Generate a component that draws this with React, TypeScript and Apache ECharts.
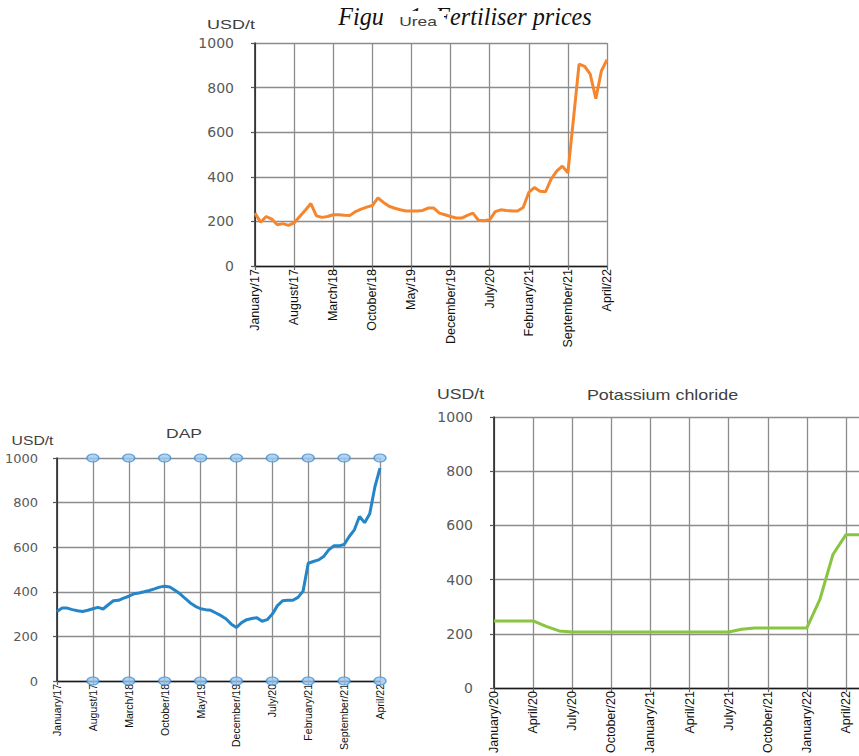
import React, { useEffect, useRef } from "react";
import * as echarts from "echarts";

const MONTH_NAMES = [
  "January", "February", "March", "April", "May", "June",
  "July", "August", "September", "October", "November", "December",
];

function monthLabels(startYear: number, startMonth: number, count: number): string[] {
  const out: string[] = [];
  for (let k = 0; k < count; k++) {
    const m = (startMonth + k) % 12;
    const y = startYear + Math.floor((startMonth + k) / 12);
    out.push(`${MONTH_NAMES[m]}/${String(y % 100).padStart(2, "0")}`);
  }
  return out;
}

// Categories (monthly)
const ureaMonths = monthLabels(2017, 0, 64); // January/17 … April/22
const dapMonths = monthLabels(2017, 0, 64); // January/17 … April/22
const potashMonths = monthLabels(2020, 0, 29); // January/20 … May/22 (last one cut by the page edge)

// Series values, USD/t
const ureaPrices = [
  237, 196, 222, 210, 185, 190, 182, 193, 222, 250,
  280, 225, 218, 222, 230, 230, 228, 227, 244, 255,
  264, 271, 305, 285, 268, 259, 252, 247, 247, 247,
  249, 260, 260, 237, 230, 222, 215, 215, 227, 237,
  205, 203, 207, 244, 252, 249, 247, 247, 262, 330,
  352, 335, 333, 390, 425, 448, 418, 660, 905, 895,
  860, 750, 875, 925,
];

const dapPrices = [
  312, 327, 327, 320, 315, 312, 317, 324, 330, 323,
  342, 360, 362, 372, 380, 391, 395, 400, 406, 413,
  421, 425, 422, 407, 391, 370, 350, 335, 324, 320,
  317, 305, 293, 278, 255, 240, 262, 275, 280, 284,
  268, 275, 300, 338, 360, 362, 362, 375, 403, 528,
  536, 543, 558, 588, 606, 606, 612, 648, 678, 738,
  710, 750, 870, 955,
];

const potashPrices = [
  248, 248, 248, 248, 228, 211, 207, 207, 207, 207,
  207, 207, 207, 207, 207, 207, 207, 207, 207, 217,
  222, 222, 222, 222, 222, 327, 493, 566, 566,
];

// Value-axis ticks
const yTicks = [0, 200, 400, 600, 800, 1000];
// Levels of the DAP chart's round markers
const dapMarkerLevels = [0, 1000];

const UREA_STEP = 7;
const DAP_STEP = 7;
const POTASH_STEP = 3;

export default function App() {
  const ref = useRef<HTMLDivElement>(null);

  useEffect(() => {
    document.body.style.margin = "0";
    document.body.style.overflow = "hidden";
    if (!ref.current) return;
    const chart = echarts.init(ref.current, undefined, { renderer: "svg" });

    const splitLineStyle = { color: "#8c8c8c", width: 1.3 };
    const xLabelFont = "'Liberation Sans', Arial, sans-serif";

    const xAxisFor = (gridIndex: number, data: string[], step: number, fontSize: number) => ({
      type: "category",
      gridIndex,
      data,
      boundaryGap: false,
      axisLine: { show: true, lineStyle: { color: "#1a1a1a", width: 1.3 } },
      axisTick: { show: true, interval: step - 1, length: 4, lineStyle: { color: "#666", width: 1.2 } },
      axisLabel: {
        interval: step - 1,
        rotate: 90,
        margin: 3,
        fontSize,
        color: "#111111",
        fontFamily: xLabelFont,
      },
      splitLine: { show: true, interval: step - 1, lineStyle: splitLineStyle },
    });

    const yAxisFor = (gridIndex: number, fontSize: number, margin: number) => ({
      type: "value",
      gridIndex,
      min: yTicks[0],
      max: yTicks[yTicks.length - 1],
      interval: yTicks[1] - yTicks[0],
      axisLine: { show: true, lineStyle: { color: "#1a1a1a", width: 1.5 } },
      axisTick: { show: true, length: 4, lineStyle: { color: "#555", width: 1.2 } },
      axisLabel: {
        color: "#595959",
        fontFamily: "'DejaVu Sans', sans-serif",
        fontSize,
        margin,
        formatter: (v: number) => String(v),
      },
      splitLine: { show: true, lineStyle: splitLineStyle },
    });

    const dapMarkerData: [string, number][] = [];
    dapMonths.forEach((m, i) => {
      if (i > 0 && i % DAP_STEP === 0) {
        dapMarkerLevels.forEach((v) => dapMarkerData.push([m, v]));
      }
    });

    const txt = (
      text: string,
      x: number,
      y: number,
      fontSize: number,
      scaleX: number,
      fill: string
    ) => ({
      type: "text",
      x,
      y,
      scaleX,
      z: 10,
      style: {
        text,
        fontSize,
        fontFamily: "'Liberation Sans', Arial, sans-serif",
        fill,
        align: "center",
        verticalAlign: "middle",
      },
    });

    chart.setOption({
      animation: false,
      backgroundColor: "#ffffff",
      grid: [
        { left: 255, top: 43, width: 352, height: 223, containLabel: false },
        { left: 57, top: 458, width: 323, height: 223, containLabel: false },
        { left: 494, top: 417, width: 369, height: 274, containLabel: false },
      ],
      xAxis: [
        xAxisFor(0, ureaMonths, UREA_STEP, 12.5),
        xAxisFor(1, dapMonths, DAP_STEP, 10.5),
        xAxisFor(2, potashMonths, POTASH_STEP, 12.5),
      ],
      yAxis: [yAxisFor(0, 14, 21), yAxisFor(1, 13, 19), yAxisFor(2, 14, 21)],
      series: [
        {
          name: "Urea",
          type: "line",
          xAxisIndex: 0,
          yAxisIndex: 0,
          data: ureaPrices,
          showSymbol: false,
          lineStyle: { color: "#F5862E", width: 3 },
          itemStyle: { color: "#F5862E" },
        },
        {
          name: "DAP",
          type: "line",
          xAxisIndex: 1,
          yAxisIndex: 1,
          data: dapPrices,
          showSymbol: false,
          lineStyle: { color: "#2485C8", width: 3 },
          itemStyle: { color: "#2485C8" },
        },
        {
          name: "DAP markers",
          type: "scatter",
          xAxisIndex: 1,
          yAxisIndex: 1,
          data: dapMarkerData,
          symbol: "path://M0 4A6 4 0 1 0 12 4A6 4 0 1 0 0 4Z",
          symbolSize: [12, 8],
          clip: false,
          silent: true,
          z: 5,
          itemStyle: { color: "#9DC8EE", borderColor: "#3B8ED5", borderWidth: 1.2 },
        },
        {
          name: "Potassium chloride",
          type: "line",
          xAxisIndex: 2,
          yAxisIndex: 2,
          data: potashPrices,
          showSymbol: false,
          lineStyle: { color: "#88C540", width: 3 },
          itemStyle: { color: "#88C540" },
        },
      ],
      graphic: [
        {
          type: "text",
          x: 465,
          y: 16,
          scaleX: 0.93,
          z: 8,
          style: {
            text: "Figure 1: Fertiliser prices",
            fontSize: 26,
            fontStyle: "italic",
            fontFamily: "'Liberation Serif', 'Times New Roman', serif",
            fill: "#111111",
            align: "center",
            verticalAlign: "middle",
          },
        },
        {
          type: "rect",
          z: 9,
          shape: { x: 383, y: 11, width: 61, height: 22 },
          style: { fill: "#ffffff" },
        },
        txt("Urea", 418, 22, 12, 1.45, "#404040"),
        txt("USD/t", 231, 24.5, 13, 1.38, "#404040"),
        txt("DAP", 184, 434, 12, 1.46, "#404040"),
        txt("USD/t", 32.5, 440.5, 12.5, 1.26, "#404040"),
        txt("Potassium chloride", 662.5, 394.5, 14, 1.28, "#404040"),
        txt("USD/t", 460.5, 394, 14.5, 1.22, "#404040"),
      ],
    });

    return () => {
      chart.dispose();
    };
  }, []);

  return <div ref={ref} style={{ width: 859, height: 756 }} />;
}
